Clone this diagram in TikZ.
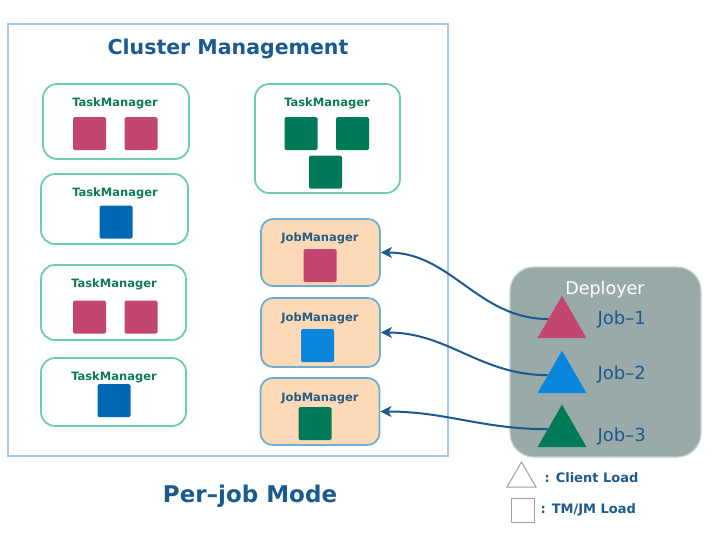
\documentclass[tikz,border=0pt]{standalone}
\usepackage{fontspec}
\setmainfont{DejaVu Sans}
\usepackage{xcolor}
\usetikzlibrary{arrows.meta,positioning,shapes.geometric}

\definecolor{frameblue}{HTML}{A8C8EE}
\definecolor{inkblue}{HTML}{1B5A8E}
\definecolor{tmedge}{HTML}{6CCFA6}
\definecolor{tmtext}{HTML}{0E7A5C}
\definecolor{jobpink}{HTML}{C2466F}
\definecolor{tmblue}{HTML}{0068B5}
\definecolor{jobblue}{HTML}{0A87DC}
\definecolor{jobgreen}{HTML}{007A58}
\definecolor{jmfill}{HTML}{FDD9B7}
\definecolor{jmedge}{HTML}{6AB0CC}
\definecolor{jmtext}{HTML}{245E80}
\definecolor{depfill}{HTML}{9AAAA8}
\definecolor{depedge}{HTML}{C6D0CF}
\definecolor{legendgray}{HTML}{A0A0A0}

\begin{document}
\begin{tikzpicture}[x=1pt, y=-1pt, >={Stealth[length=11pt, width=11pt, inset=3pt]},
    tm/.style={draw=tmedge, line width=1.8pt, rounded corners=14pt, inner sep=0pt},
    jm/.style={draw=jmedge, fill=jmfill, line width=1.8pt, rounded corners=12pt, inner sep=0pt, minimum width=119pt},
    slot/.style={minimum size=33pt, inner sep=0pt, rounded corners=1.5pt},
    tri/.style={regular polygon, regular polygon sides=3, minimum size=56.6pt, inner sep=0pt},
    mgr/.style={font=\bfseries\fontsize{11.5}{13}\selectfont},
    job/.style={anchor=west, text=inkblue, font=\fontsize{18}{20}\selectfont},
    key/.style={anchor=west, text=inkblue, font=\bfseries\fontsize{13}{15}\selectfont},
    link/.style={->, draw=inkblue, line width=2pt}]
    \useasboundingbox (0,0) rectangle (723,539);

    % cluster frame
    \node[draw=frameblue, line width=1.8pt, minimum width=440pt, minimum height=432pt] (cluster) at (228,240) {};
    \node[text=inkblue, font=\bfseries\fontsize{20.5}{24}\selectfont] (title) at (228,49) {Cluster Management};

    % task managers
    \node[tm, minimum width=146pt, minimum height=75pt] (tm1) at (116,121.5) {};
    \node[tm, minimum width=147pt, minimum height=70pt] (tm2) at (114.5,209) {};
    \node[tm, minimum width=145pt, minimum height=75pt] (tm3) at (113.5,302.5) {};
    \node[tm, minimum width=145pt, minimum height=68pt] (tm4) at (113.5,392) {};
    \node[tm, minimum width=145pt, minimum height=109pt] (tm5) at (327.5,138.5) {};
    \node[mgr, text=tmtext] (tm1l) at (115,103) {TaskManager};
    \node[mgr, text=tmtext] (tm2l) at (115,193) {TaskManager};
    \node[mgr, text=tmtext] (tm3l) at (114,284) {TaskManager};
    \node[mgr, text=tmtext] (tm4l) at (114,377) {TaskManager};
    \node[mgr, text=tmtext] (tm5l) at (327,103) {TaskManager};
    \node[slot, fill=jobpink] (s11) at (89.5,133.5) {};
    \node[slot, fill=jobpink] (s12) at (141,133.5) {};
    \node[slot, fill=tmblue] (s21) at (116,222) {};
    \node[slot, fill=jobpink] (s31) at (89.5,317) {};
    \node[slot, fill=jobpink] (s32) at (141,317) {};
    \node[slot, fill=tmblue] (s41) at (114,400.5) {};
    \node[slot, fill=jobgreen] (s51) at (301,133.5) {};
    \node[slot, fill=jobgreen] (s52) at (352.5,133.5) {};
    \node[slot, fill=jobgreen] (s53) at (325.5,172) {};

    % job managers
    \node[jm, minimum height=67pt] (jm1) at (320.5,252.5) {};
    \node[jm, minimum height=69pt] (jm2) at (320.5,332.5) {};
    \node[jm, minimum height=67pt] (jm3) at (320,411.5) {};
    \node[mgr, text=jmtext] (jm1l) at (320,238) {JobManager};
    \node[mgr, text=jmtext] (jm2l) at (320,318) {JobManager};
    \node[mgr, text=jmtext] (jm3l) at (320,398) {JobManager};
    \node[slot, fill=jobpink] (j1) at (320,265.5) {};
    \node[slot, fill=jobblue] (j2) at (317.5,345.5) {};
    \node[slot, fill=jobgreen] (j3) at (315,423.5) {};

    % deployer
    \node[draw=depedge, fill=depfill, line width=1.2pt, rounded corners=24pt, minimum width=191pt, minimum height=190pt] (dep) at (605.5,362) {};
    \node[text=white, font=\fontsize{17.5}{20}\selectfont] (depl) at (605,290) {Deployer};
    \node[tri, fill=jobpink] (tri1) at (562,324) {};
    \node[tri, fill=jobblue] (tri2) at (562,379) {};
    \node[tri, fill=jobgreen] (tri3) at (562,433) {};
    \node[job] (job1) at (594,319) {Job–1};
    \node[job] (job2) at (594,374) {Job–2};
    \node[job] (job3) at (594,436) {Job–3};

    \draw[link] (tri1.160) to[out=180, in=0] (jm1.east);
    \draw[link] (tri2.165) to[out=180, in=0] (jm2.east);
    \draw[link] (tri3.165) to[out=180, in=0] (jm3.east);

    % legend
    \node[tri, draw=legendgray, line width=1pt, minimum size=33.5pt] (keytri) at (521.5,478.7) {};
    \node[draw=legendgray, line width=1pt, minimum width=23pt, minimum height=24pt, inner sep=0pt] (keybox) at (522.5,510) {};
    \node[key] (keytril) at (541,478) {: Client Load};
    \node[key] (keyboxl) at (537,510) {: TM/JM Load};

    \node[text=inkblue, font=\bfseries\fontsize{23}{27}\selectfont] (mode) at (250,496) {Per–job Mode};
  \end{tikzpicture}
\end{document}
